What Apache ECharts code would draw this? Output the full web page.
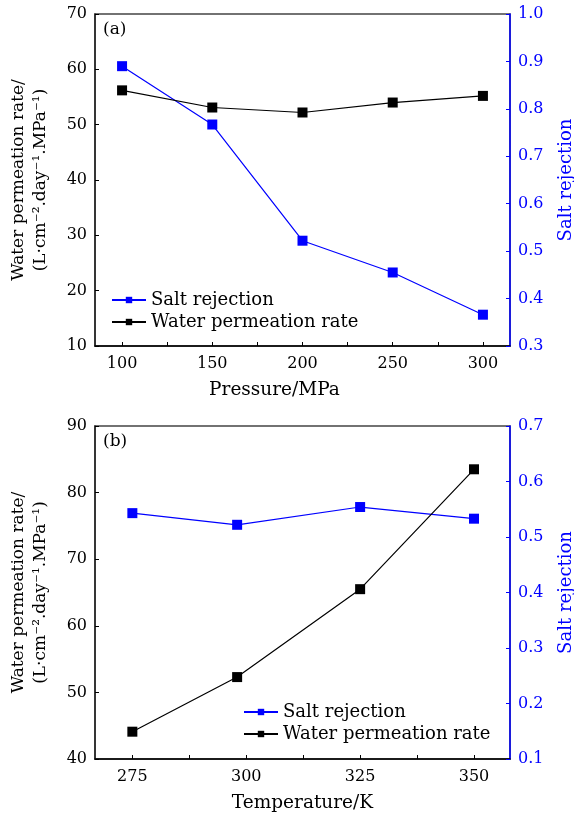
<!DOCTYPE html>
<html>
<head>
<meta charset="utf-8">
<script src="https://cdn.jsdelivr.net/npm/echarts@6/dist/echarts.min.js"></script>
<style>
  html, body { margin: 0; padding: 0; background: #fff; }
  #chart { width: 574px; height: 816px; }
</style>
</head>
<body>
<div id="chart"></div>
<script>
// panel (a): pressure
var pressure = [100, 150, 200, 250, 300];
var saltA = [0.89, 0.767, 0.522, 0.455, 0.366];
var waterA = [56.2, 53.1, 52.2, 54.0, 55.2];
var pressureTicks = [100, 150, 200, 250, 300];
var pressureMinor = [100, 125, 150, 175, 200, 225, 250, 275, 300];

// panel (b): temperature
var temperature = [275, 298, 325, 350];
var saltB = [0.543, 0.522, 0.554, 0.533];
var waterB = [44.1, 52.3, 65.5, 83.5];
var tempTicks = [275, 300, 325, 350];
var tempMinor = [275, 287.5, 300, 312.5, 325, 337.5, 350];

var blue = '#0000ff';
var ink = '#000';
var font = 'DejaVu Serif';
var leftName = 'Water permeation rate/\n(L·cm⁻².day⁻¹.MPa⁻¹)';

function pairs(xs, ys) {
  return xs.map(function(x, i) { return [x, ys[i]]; });
}

function xAxisOf(gi, min, max, labels, ticks, name, pad) {
  return {
    type: 'value', gridIndex: gi, min: min, max: max,
    name: name, nameLocation: 'middle', nameGap: 35,
    nameTextStyle: { color: ink, fontFamily: font, fontSize: 18.5, padding: pad },
    axisLine: { lineStyle: { color: ink, width: 1.5 } },
    axisTick: { inside: true, length: 4, customValues: ticks, lineStyle: { color: ink } },
    axisLabel: { customValues: labels, color: ink, fontFamily: font, fontSize: 16, margin: 10 },
    splitLine: { show: false }
  };
}

function yLeft(gi, min, max) {
  return {
    type: 'value', gridIndex: gi, position: 'left', min: min, max: max, interval: 10,
    name: leftName, nameLocation: 'middle', nameGap: 43,
    nameTextStyle: { color: ink, fontFamily: font, fontSize: 17, lineHeight: 22 },
    axisLine: { show: true, lineStyle: { color: '#222', width: 1.5 } },
    axisTick: { inside: true, length: 4, lineStyle: { color: ink } },
    axisLabel: { color: ink, fontFamily: font, fontSize: 16, margin: 8 },
    splitLine: { show: false }
  };
}

function yRight(gi, min, max) {
  return {
    type: 'value', gridIndex: gi, position: 'right', min: min, max: max, interval: 0.1,
    name: 'Salt rejection', nameLocation: 'middle', nameGap: 47,
    nameTextStyle: { color: blue, fontFamily: font, fontSize: 18 },
    axisLine: { show: true, lineStyle: { color: blue, width: 1.5 } },
    axisTick: { inside: true, length: 4, lineStyle: { color: blue } },
    axisLabel: { color: blue, fontFamily: font, fontSize: 16, margin: 8,
      formatter: function(v) { return v.toFixed(1); } },
    splitLine: { show: false }
  };
}

function lineSeries(name, color, xi, yi, data) {
  return {
    name: name, type: 'line', xAxisIndex: xi, yAxisIndex: yi, data: data,
    symbol: 'rect', symbolSize: 10, showAllSymbol: true,
    lineStyle: { color: color, width: 1.2 },
    itemStyle: { color: color },
    emphasis: { disabled: true }
  };
}

function legendAt(left, top) {
  return {
    left: left, top: top, orient: 'vertical', itemGap: 4,
    itemWidth: 34, itemHeight: 8,
    data: ['Salt rejection', 'Water permeation rate'],
    textStyle: { color: ink, fontFamily: font, fontSize: 18 }
  };
}

var chart = echarts.init(document.getElementById('chart'), null, { renderer: 'canvas' });
chart.setOption({
  animation: false,
  grid: [
    { left: 95, right: 64, top: 14, height: 332, outerBoundsMode: 'none',
      show: true, borderColor: '#444', borderWidth: 1.5 },
    { left: 95, right: 64, top: 426, height: 333, outerBoundsMode: 'none',
      show: true, borderColor: '#444', borderWidth: 1.5 }
  ],
  xAxis: [
    xAxisOf(0, 85, 315, pressureTicks, pressureMinor, 'Pressure/MPa', [0, 56, 0, 0]),
    xAxisOf(1, 266.8, 357.9, tempTicks, tempMinor, 'Temperature/K', 0)
  ],
  yAxis: [
    yLeft(0, 10, 70), yRight(0, 0.3, 1.0),
    yLeft(1, 40, 90), yRight(1, 0.1, 0.7)
  ],
  legend: [legendAt(106, 286), legendAt(238, 698)],
  series: [
    lineSeries('Salt rejection', blue, 0, 1, pairs(pressure, saltA)),
    lineSeries('Water permeation rate', ink, 0, 0, pairs(pressure, waterA)),
    lineSeries('Salt rejection', blue, 1, 3, pairs(temperature, saltB)),
    lineSeries('Water permeation rate', ink, 1, 2, pairs(temperature, waterB))
  ],
  graphic: [
    { type: 'text', left: 103, top: 21, style: { text: '(a)', fill: ink, font: '17px "DejaVu Serif"' } },
    { type: 'text', left: 103, top: 433, style: { text: '(b)', fill: ink, font: '17px "DejaVu Serif"' } }
  ]
});
</script>
</body>
</html>
